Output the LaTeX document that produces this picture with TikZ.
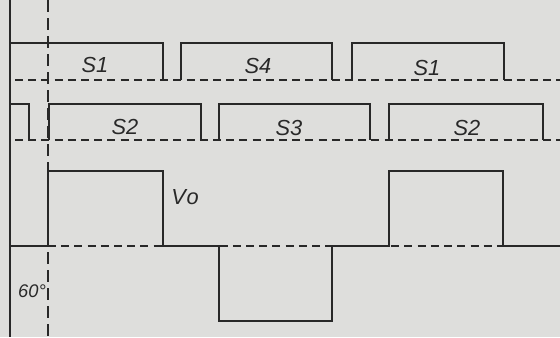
\documentclass[tikz,border=0pt]{standalone}
\usepackage{fontspec}
\setmainfont{Liberation Sans}
\usetikzlibrary{positioning}
\definecolor{paper}{RGB}{222,222,220}
\definecolor{ink}{RGB}{40,40,40}
\tikzset{
  wave/.style={draw=ink, line width=1.3pt},
  zeroline/.style={draw=ink, line width=1.3pt, dash pattern=on 0.2cm off 0.13cm},
  axisdash/.style={draw=ink, line width=1.3pt, dash pattern=on 0.3cm off 0.15cm},
  sig/.style={text=ink, font=\fontsize{15.5}{17}\selectfont\itshape, inner sep=0pt}
}

\begin{document}
\begin{tikzpicture}[x=0.025cm, y=-0.025cm]
    % Paper
    \fill [paper] (0,0) rectangle (560,337);
    \useasboundingbox (0,0) rectangle (560,337);

    % Axes
    \draw [wave] (10,0) -- (10,337);
    \draw [axisdash] (48,0) -- (48,337);

    % S1 / S4
    \draw [zeroline] (15,80) -- (560,80);
    \draw [wave] (10,43) -- (163,43) -- (163,80);
    \draw [wave] (181,80) |- (332,43) -- (332,80);
    \draw [wave] (352,80) |- (504,43) -- (504,80);
    \node [sig] (s1a) at (95,65) {S1};
    \node [sig] (s4) at (258,66) {S4};
    \node [sig] (s1b) at (427,68) {S1};

    % S2 / S3
    \draw [zeroline] (15,140) -- (560,140);
    \draw [wave] (10,104) -- (29,104) -- (29,140);
    \draw [wave] (49,140) |- (201,104) -- (201,140);
    \draw [wave] (219,140) |- (370,104) -- (370,140);
    \draw [wave] (389,140) |- (543,104) -- (543,140);
    \node [sig] (s2a) at (125,127) {S2};
    \node [sig] (s3) at (289,128) {S3};
    \node [sig] (s2b) at (467,128) {S2};

    % Vo
    \draw [zeroline] (48,246) -- (560,246);
    \draw [wave] (10,246) -- (48,246) -- (48,171) -- (163,171) -- (163,246)
        -- (219,246) -- (219,321) -- (332,321) -- (332,246) -- (389,246)
        -- (389,171) -- (503,171) -- (503,246) -- (560,246);
    \node [sig] (vo) at (185,197) {V\kern0.5pt o};
    \node [sig, font=\fontsize{13}{15}\selectfont\itshape] (deg) at (32,291) {60\textdegree};
\end{tikzpicture}
\end{document}
